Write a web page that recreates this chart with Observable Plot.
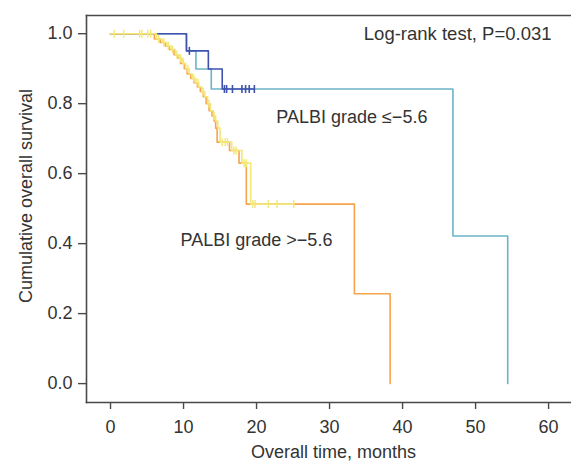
<!DOCTYPE html>
<html><head><meta charset="utf-8">
<script src="https://cdn.jsdelivr.net/npm/d3@7"></script>
<script src="https://cdn.jsdelivr.net/npm/@observablehq/plot@0.6"></script>
<style>body{margin:0;background:#fff}</style>
</head><body><div id="chart"></div>
<script>
// ---- data (months, survival) ----
const xTicks = [0, 10, 20, 30, 40, 50, 60];
const yTicks = [0, 0.2, 0.4, 0.6, 0.8, 1.0];

// PALBI grade <= -5.6 (two cohorts)
const tealT = [0, 10.4, 11.7, 13.8, 46.9, 54.4];
const tealS = [1, 0.951, 0.899, 0.842, 0.422, 0];
const blueT = [0, 10.4, 13.4, 15.3, 19.7];
const blueS = [1, 0.951, 0.899, 0.842, 0.842];
const blueCensT = [10.8, 15.6, 15.9, 16.7, 18.0, 18.5, 19.0, 19.7];
const blueCensS = [0.951, 0.842, 0.842, 0.842, 0.842, 0.842, 0.842, 0.842];

// PALBI grade > -5.6 (two cohorts)
const orangeT = [0, 6.0, 6.8, 7.5, 8.0, 8.7, 9.2, 9.6, 10.1, 10.5, 11.0, 11.4, 11.9, 12.3, 12.7, 13.1, 13.5, 13.9, 14.2, 14.4, 14.6, 16.3, 17.6, 18.6, 33.4, 38.3];
const orangeS = [1, 0.985, 0.975, 0.965, 0.955, 0.94, 0.93, 0.915, 0.9, 0.885, 0.872, 0.86, 0.848, 0.835, 0.82, 0.80, 0.78, 0.765, 0.75, 0.73, 0.69, 0.666, 0.63, 0.513, 0.257, 0];
const yellowT = [0, 6.3, 7.1, 7.7, 8.3, 8.9, 9.4, 9.9, 10.3, 10.8, 11.2, 11.7, 12.1, 12.5, 12.9, 13.3, 13.7, 14.1, 14.4, 14.7, 15.0, 16.6, 18.0, 19.2, 25.1];
const yellowS = [1, 0.985, 0.975, 0.965, 0.955, 0.94, 0.93, 0.915, 0.9, 0.885, 0.872, 0.86, 0.848, 0.835, 0.82, 0.80, 0.78, 0.765, 0.75, 0.73, 0.69, 0.666, 0.63, 0.513, 0.513];
const yellowCensT = [0.5, 1.8, 4.0, 4.3, 5.1, 5.5, 6.6, 7.3, 7.9, 8.5, 9.1, 9.6, 10.0, 10.6, 11.4, 12.0, 12.7, 13.5, 14.2, 15.3, 15.7, 16.0, 16.9, 17.2, 18.3, 18.6, 19.5, 19.8, 21.6, 22.8, 25.1];
const yellowCensS = [1, 1, 1, 1, 1, 1, 0.985, 0.975, 0.965, 0.955, 0.94, 0.93, 0.915, 0.9, 0.872, 0.86, 0.835, 0.80, 0.765, 0.69, 0.69, 0.69, 0.666, 0.666, 0.63, 0.63, 0.513, 0.513, 0.513, 0.513, 0.513];

const texts = ["Log-rank test, P=0.031", "PALBI grade \u2264\u22125.6", "PALBI grade >\u22125.6"];
const xTitle = "Overall time, months";
const yTitle = "Cumulative overall survival";

// ---- build tables ----
const pts = (T, S) => T.map((t, i) => ({t, s: S[i]}));
const teal = pts(tealT, tealS), blue = pts(blueT, blueS);
const orange = pts(orangeT, orangeS), yellow = pts(yellowT, yellowS);
const blueCens = pts(blueCensT, blueCensS), yellowCens = pts(yellowCensT, yellowCensS);

const tickSym = {draw(ctx, size) { const r = Math.sqrt(size / Math.PI); ctx.moveTo(0, -r); ctx.lineTo(0, r); }};

const C = {teal: "#6cb3c9", blue: "#3f52ad", orange: "#f5a44b", yellow: "#f2e778", ink: "#333333", axis: "#4d4848"};
const font = "Liberation Sans, Arial, Helvetica, sans-serif";

const chart = Plot.plot({
  width: 571, height: 463,
  marginLeft: 86, marginRight: 1, marginTop: 15, marginBottom: 61,
  style: {fontFamily: font, fontSize: "18px", color: C.ink, background: "#fff"},
  x: {domain: [-3.29, 63.0], axis: null},
  y: {domain: [-0.054, 1.052], axis: null},
  marks: [
    Plot.frame({anchor: "left", stroke: C.axis, strokeWidth: 1.6}),
    Plot.frame({anchor: "top", stroke: C.axis, strokeWidth: 1.6}),
    Plot.frame({anchor: "bottom", stroke: C.axis, strokeWidth: 1.6}),
    Plot.axisY({ticks: yTicks, tickFormat: d3.format(".1f"), tickSize: 8, tickPadding: 6, fontSize: 18, stroke: C.axis, fill: C.ink, strokeWidth: 1.4, label: null}),
    Plot.axisX({ticks: xTicks, tickFormat: d3.format("d"), tickSize: 7, tickPadding: 11, fontSize: 18, stroke: C.axis, fill: C.ink, strokeWidth: 1.4, label: null}),
    Plot.line(teal, {x: "t", y: "s", curve: "step-after", stroke: C.teal, strokeWidth: 1.6}),
    Plot.line(blue, {x: "t", y: "s", curve: "step-after", stroke: C.blue, strokeWidth: 1.6}),
    Plot.dot(blueCens, {x: "t", y: "s", symbol: tickSym, r: 4, stroke: C.blue, strokeWidth: 1.6, fill: "none"}),
    Plot.line(orange, {x: "t", y: "s", curve: "step-after", stroke: C.orange, strokeWidth: 1.6}),
    Plot.line(yellow, {x: "t", y: "s", curve: "step-after", stroke: C.yellow, strokeWidth: 1.6}),
    Plot.dot(yellowCens, {x: "t", y: "s", symbol: tickSym, r: 4, stroke: C.yellow, strokeWidth: 1.4, fill: "none"}),
    Plot.text([texts[0]], {x: 60.4, y: 1.0, textAnchor: "end", fontSize: 18.5, fill: C.ink}),
    Plot.text([texts[1]], {x: 22.7, y: 0.761, textAnchor: "start", fontSize: 18, fill: C.ink}),
    Plot.text([texts[2]], {x: 9.6, y: 0.409, textAnchor: "start", fontSize: 18, fill: C.ink}),
    Plot.text([xTitle], {frameAnchor: "bottom", dy: 55, dx: 5, textAnchor: "middle", fontSize: 18, fill: C.ink}),
    Plot.text([yTitle], {frameAnchor: "left", dx: -60, dy: -13, rotate: -90, textAnchor: "middle", fontSize: 18, fill: C.ink})
  ]
});
document.getElementById("chart").appendChild(chart);
</script></body></html>
